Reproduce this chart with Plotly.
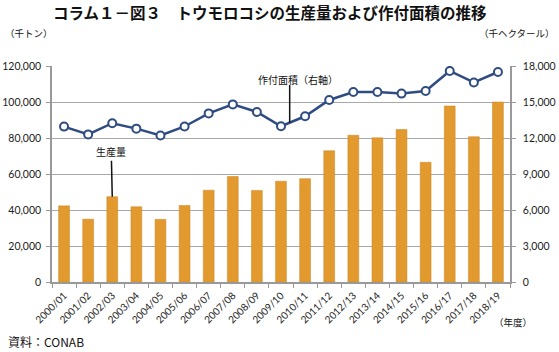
import plotly.graph_objects as go

years = ["2000/01", "2001/02", "2002/03", "2003/04", "2004/05", "2005/06", "2006/07",
         "2007/08", "2008/09", "2009/10", "2010/11", "2011/12", "2012/13", "2013/14",
         "2014/15", "2015/16", "2016/17", "2017/18", "2018/19"]
production = [42300, 34900, 47400, 41800, 34800, 42500, 51000, 58600, 50900, 56000,
              57400, 72900, 81500, 80100, 84700, 66500, 97800, 80700, 100000]
area = [12950, 12300, 13230, 12780, 12210, 12960, 14050, 14800, 14170, 12980,
        13810, 15170, 15830, 15830, 15700, 15920, 17590, 16630, 17500]
left_ticks = [0, 20000, 40000, 60000, 80000, 100000, 120000]
right_ticks = [0, 3000, 6000, 9000, 12000, 15000, 18000]

JP = "Noto Sans CJK JP"
NUM = "Lato, Noto Sans CJK JP"
BAR = "#E29A2F"
LINE = "#2F4C82"
GRID = "#A8A8A8"

L, R, T, B = 52, 49, 66, 70
PW, PH = 559 - L - R, 352 - T - B


def px(x):
    return (x - L) / PW


def py(y):
    return (352 - B - y) / PH


fig = go.Figure()
fig.add_trace(go.Bar(x=years, y=production, marker=dict(color=BAR, line=dict(color="#C98420", width=0.5)),
                     yaxis="y", showlegend=False))
fig.add_trace(go.Scatter(x=years, y=area, yaxis="y2", mode="lines+markers",
                         line=dict(color=LINE, width=2.5),
                         marker=dict(symbol="circle", size=8, color="white",
                                     line=dict(color=LINE, width=2)),
                         showlegend=False))

fig.update_layout(
    width=559, height=352,
    margin=dict(l=L, r=R, t=T, b=B),
    paper_bgcolor="white", plot_bgcolor="white",
    bargap=0.55,
    xaxis=dict(type="category", range=[-0.5, 18.5], tickangle=-45, automargin=False,
               tickfont=dict(family=NUM, size=10, color="#222"),
               showline=True, linecolor="#999", linewidth=1.5,
               ticks="outside", tickson="boundaries", ticklen=4, tickcolor="#999",
               showgrid=False, ticklabelstandoff=2),
    yaxis=dict(range=[0, 120000], tickvals=left_ticks, tickformat=",d", automargin=False,
               tickfont=dict(family=NUM, size=10.5, color="#222"),
               showline=True, linecolor="#999", linewidth=1.5,
               ticks="outside", ticklen=4, tickcolor="#999",
               showgrid=True, gridcolor=GRID, gridwidth=1, zeroline=False,
               ticklabelstandoff=3),
    yaxis2=dict(range=[0, 18000], tickvals=right_ticks, tickformat=",d", overlaying="y",
                side="right", automargin=False,
                tickfont=dict(family=NUM, size=10.5, color="#222"),
                showline=True, linecolor="#999", linewidth=1.5,
                ticks="outside", ticklen=4, tickcolor="#999",
                showgrid=False, zeroline=False, ticklabelstandoff=5),
)


def label(text, x, y, size, xanchor="center", bold=False):
    fig.add_annotation(text=f"<b>{text}</b>" if bold else text,
                       xref="paper", yref="paper", x=px(x), y=py(y),
                       xanchor=xanchor, yanchor="middle", showarrow=False,
                       font=dict(family=JP, size=size, color="#111"))


label("コラム１－図３　トウモロコシの生産量および作付面積の推移", 270, 12, 15.5, bold=True)
label("（千トン）", 3, 33, 9.5, xanchor="left")
label("（千ヘクタール）", 557, 33, 9.5, xanchor="right")
label("（年度）", 513, 322, 9.5)
label("資料：CONAB", 6, 341, 12, xanchor="left")
label("作付面積（右軸）", 298, 79, 10)

# callout for production
fig.add_annotation(text="生産量", x="2002/03", y=production[2], xref="x", yref="y",
                   showarrow=True, arrowhead=0, arrowwidth=1.5, arrowcolor="#111",
                   ax=-1, ay=-45, font=dict(family=JP, size=10, color="#111"))
pos = 9.36
yline = area[9] + (area[10] - area[9]) * (pos - 9)
fig.add_shape(type="line", xref="x", yref="y2", x0=pos, x1=pos, y0=yline,
              y1=py(85) * 18000, line=dict(color="#111", width=1.5))

fig.write_html("out.html")
